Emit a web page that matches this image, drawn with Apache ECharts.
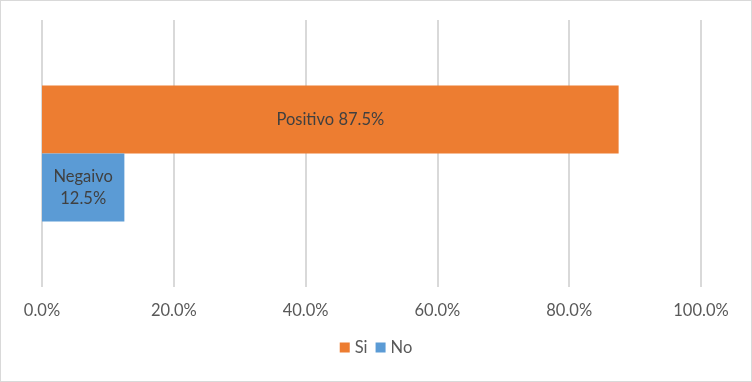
<!DOCTYPE html>
<html><head><meta charset="utf-8">
<script src="https://cdn.jsdelivr.net/npm/echarts@6/dist/echarts.min.js"></script>
<style>
html,body{margin:0;padding:0;background:#fff;}
#c{width:750px;height:380px;border:1px solid #d9d9d9;}
</style></head>
<body><div id="c"></div>
<script>
const categories = [''];
const seriesNames = ['Si', 'No'];
const siValues = [87.5];
const noValues = [12.5];
const siLabel = 'Positivo';
const noLabel = 'Negaivo';
const tickValues = [0, 20, 40, 60, 80, 100];

const chart = echarts.init(document.getElementById('c'));
const font = 'Lato, "Open Sans", sans-serif';
chart.setOption({
  animation: false,
  textStyle: {fontFamily: font},
  grid: {left: 41, right: 50, top: 19, bottom: 94},
  legend: {
    data: seriesNames, bottom: 20, left: 'center', itemWidth: 10, itemHeight: 10,
    icon: 'rect', itemGap: 8,
    textStyle: {color: '#595959', fontSize: 16.5, fontFamily: font}
  },
  xAxis: {
    type: 'value', min: tickValues[0], max: tickValues[tickValues.length-1], interval: 20,
    axisLine: {show: false}, axisTick: {show: false},
    splitLine: {lineStyle: {color: '#d9d9d9', width: 2}},
    axisLabel: {formatter: v => v.toFixed(1) + '%', color: '#595959', fontSize: 16.5, margin: 15, fontFamily: font}
  },
  yAxis: {
    type: 'category', data: categories,
    axisLine: {show: false}, axisTick: {show: false}, axisLabel: {show: false}
  },
  series: [
    {name: 'Si', type: 'bar', data: siValues, barWidth: 68, barGap: '0%',
     itemStyle: {color: '#ED7D31'},
     label: {show: true, position: 'inside', color: '#404040', fontSize: 16.5, fontFamily: font,
       formatter: p => siLabel + ' ' + p.value.toFixed(1) + '%'}},
    {name: 'No', type: 'bar', data: noValues, barWidth: 68, barGap: '0%',
     itemStyle: {color: '#5B9BD5'},
     label: {show: true, position: 'inside', color: '#404040', fontSize: 16.5, lineHeight: 22, fontFamily: font,
       formatter: p => noLabel + '\n' + p.value.toFixed(1) + '%'}}
  ]
});
</script></body></html>
